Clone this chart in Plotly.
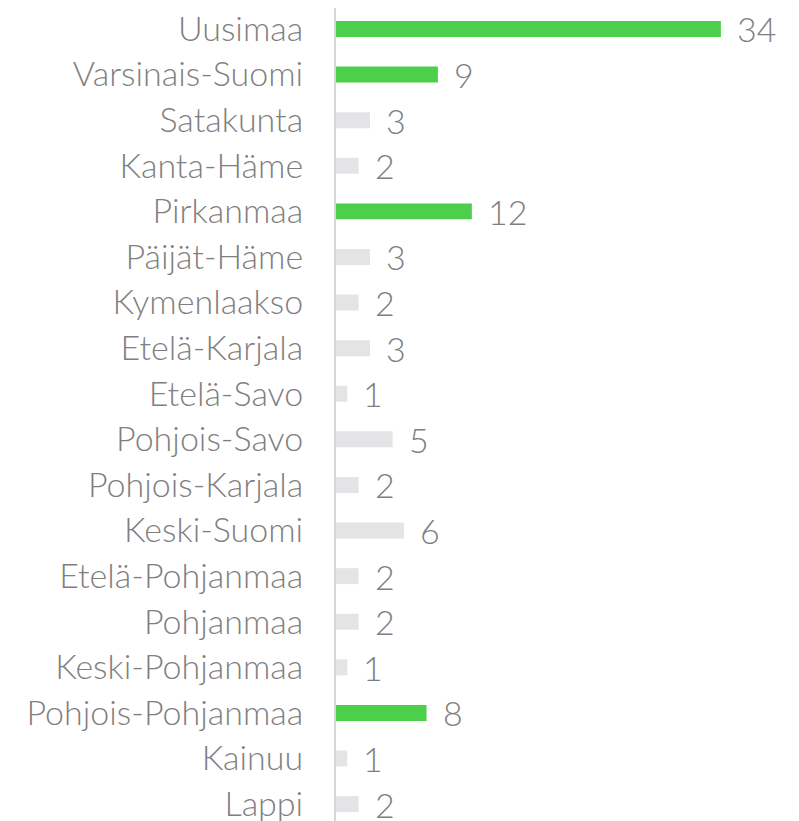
import plotly.graph_objects as go

regions = ["Uusimaa", "Varsinais-Suomi", "Satakunta", "Kanta-Häme", "Pirkanmaa",
           "Päijät-Häme", "Kymenlaakso", "Etelä-Karjala", "Etelä-Savo", "Pohjois-Savo",
           "Pohjois-Karjala", "Keski-Suomi", "Etelä-Pohjanmaa", "Pohjanmaa",
           "Keski-Pohjanmaa", "Pohjois-Pohjanmaa", "Kainuu", "Lappi"]
values = [34, 9, 3, 2, 12, 3, 2, 3, 1, 5, 2, 6, 2, 2, 1, 8, 1, 2]
highlight = ["Uusimaa", "Varsinais-Suomi", "Pirkanmaa", "Pohjois-Pohjanmaa"]

GREEN = "#4ccf4a"
GRAY = "#e4e4e6"
TEXT = "#7f7f7f"
FONT = "Lato"
FS = 34

colors = [GREEN if r in highlight else GRAY for r in regions]

fig = go.Figure(go.Bar(
    x=values, y=regions, orientation="h",
    marker=dict(color=colors, line=dict(width=0)),
    width=0.35, hoverinfo="skip",
))

for r, v in zip(regions, values):
    fig.add_annotation(x=v, y=r, text=str(v), showarrow=False,
                       xanchor="left", yanchor="middle", xshift=14,
                       font=dict(family=FONT, size=FS, color=TEXT, weight=300))

fig.update_layout(
    width=791, height=813,
    margin=dict(l=328, r=0, t=0, b=0, autoexpand=False),
    paper_bgcolor="white", plot_bgcolor="white",
    showlegend=False,
    font=dict(family=FONT, size=FS, color=TEXT, weight=300),
)
fig.update_xaxes(range=[0, 40.9], visible=False, showgrid=False, zeroline=False,
                 automargin=False)
fig.update_yaxes(type="category", categoryorder="array", categoryarray=regions,
                 range=[17.37, -0.46], showgrid=False, zeroline=False,
                 showline=True, linecolor="#d6d6d6", linewidth=2,
                 ticks="", ticklabelstandoff=24, automargin=False,
                 tickfont=dict(family=FONT, size=FS, color=TEXT, weight=300))

fig.write_html("out.html")
